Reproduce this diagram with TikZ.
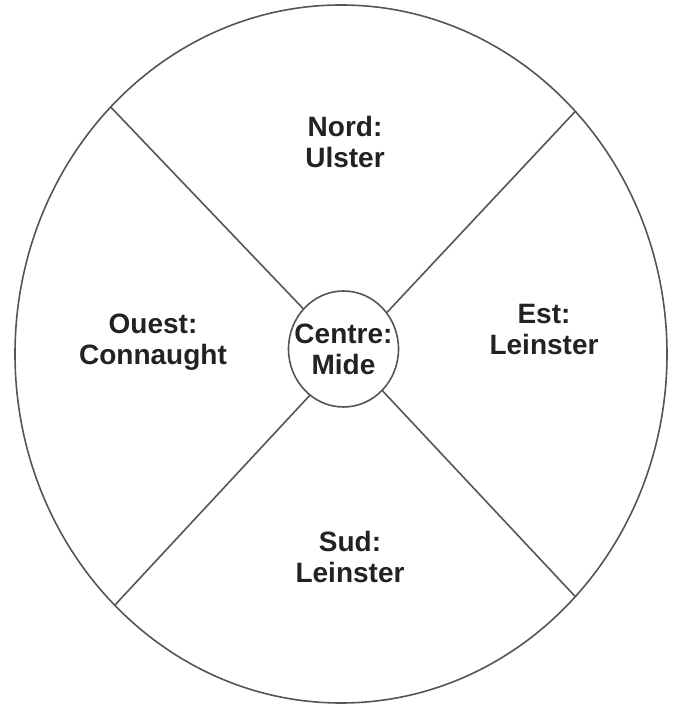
\documentclass[tikz,border=0pt]{standalone}
\usepackage{fontspec}
\setmainfont{Liberation Sans}
\usepackage{tikz}
\usetikzlibrary{shapes.geometric}
\usepackage{xcolor}
\definecolor{traitgris}{RGB}{85,85,85}
\definecolor{textenoir}{RGB}{34,34,34}
\tikzset{
    anneau/.style={draw=traitgris, line width=1.6pt, ellipse, inner sep=0pt, outer sep=0pt},
    province/.style={font=\bfseries\fontsize{28}{31}\selectfont, align=center, text=textenoir, inner sep=0pt},
    rayon/.style={draw=traitgris, line width=1.6pt}
}

\begin{document}
\begin{tikzpicture}[x=1pt, y=1pt]
    \useasboundingbox (0,0) rectangle (683,711);
    \node[anneau, minimum width=652pt, minimum height=698pt] (irlande) at (341,357) {};
    \node[anneau, province, inner xsep=-14pt, minimum width=110pt, minimum height=116pt] (mide) at (343.5,362) {Centre:\\Mide};
    \draw[rayon] (mide.135) -- (irlande.133.5);
    \draw[rayon] (mide.40) -- (irlande.46.4);
    \draw[rayon] (mide.234) -- (irlande.228.5);
    \draw[rayon] (mide.313) -- (irlande.314.4);
    \node[province] (nord) at (345,569) {Nord:\\Ulster};
    \node[province] (ouest) at (153,369) {Ouest:\\Connaught};
    \node[province] (est) at (544,381) {Est:\\Leinster};
    \node[province] (sud) at (350,154) {Sud:\\Leinster};
\end{tikzpicture}
\end{document}
